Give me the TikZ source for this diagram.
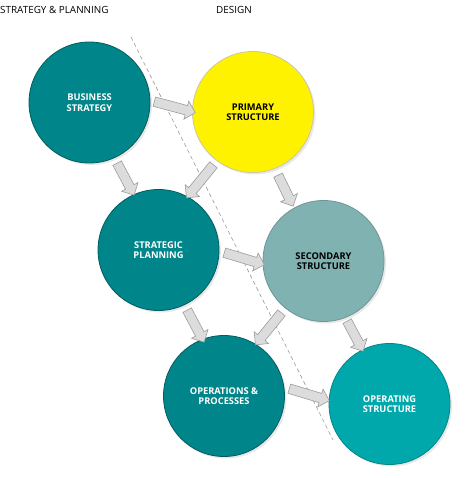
\documentclass[tikz,border=0pt]{standalone}
\usepackage{fontspec}
\setmainfont{Open Sans}
\usetikzlibrary{shapes.arrows,shadows,calc}
\definecolor{tealdark}{HTML}{00868A}
\definecolor{tealline}{HTML}{005C5E}
\definecolor{tealgray}{HTML}{80B2B2}
\definecolor{tealgrayline}{HTML}{6E9696}
\definecolor{tealbright}{HTML}{00A8AB}
\definecolor{yellowline}{HTML}{C8C8A0}
\definecolor{arrowfill}{HTML}{DCDCDC}
\definecolor{arrowline}{HTML}{9C9C9C}
\tikzset{
  stage/.style={circle, minimum size=121pt, inner sep=0pt, line width=0.8pt,
    font=\bfseries\fontsize{9.3}{10.5}\selectfont, align=center,
    drop shadow={opacity=0.18, shadow xshift=2pt, shadow yshift=-2pt}},
  darkstage/.style={stage, fill=tealdark, draw=tealline, text=white},
  blockarrow/.style={single arrow, fill=arrowfill, draw=arrowline, line width=0.6pt,
    inner xsep=0pt, inner ysep=4.5pt, minimum width=18pt, single arrow head extend=4.5pt,
    single arrow head indent=0pt, single arrow tip angle=90},
  divider/.style={dashed, draw=gray!80, line width=0.6pt, dash pattern=on 4pt off 3pt},
  header/.style={anchor=base west, inner sep=0pt, font=\fontsize{9.9}{12}\selectfont}
}
\newcommand\barrow[2]{%
  \path let \p1=(#1), \p2=(#2), \n1={atan2(\y2-\y1,\x2-\x1)}, \n2={veclen(\x2-\x1,\y2-\y1)} in
    node[blockarrow, rotate=\n1, minimum height=\n2] at ($(\p1)!0.5!(\p2)$) {};}
\begin{document}
\begin{tikzpicture}[x=1pt,y=-1pt]
\useasboundingbox (0,0) rectangle (474,478);
% headers
\node[header] (hsp) at (0,14) {STRATEGY \& PLANNING};
\node[header] (hd) at (216,14) {DESIGN};
% divider
\coordinate (d1) at (131,37);
\coordinate (d2) at (333,440);
\draw[divider] (d1) -- (d2);
% circles
\node[darkstage] (bs) at (89.5,102.5) {BUSINESS\\STRATEGY};
\node[stage, fill=yellow, draw=yellowline, text=black] (ps) at (253,112) {PRIMARY\\STRUCTURE};
\node[darkstage] (sp) at (158.5,250) {STRATEGIC\\PLANNING};
\node[stage, fill=tealgray, draw=tealgrayline, text=black] (ss) at (323.5,261) {SECONDARY\\STRUCTURE};
\node[darkstage] (op) at (224,396) {OPERATIONS \&\\PROCESSES};
\node[stage, fill=tealbright, draw=tealbright!80!black, text=white] (os) at (389.5,404) {OPERATING\\STRUCTURE};
% arrow end points
\coordinate (a1s) at (152,101); \coordinate (a1e) at (193,112);
\coordinate (a2s) at (116,161); \coordinate (a2e) at (133,193);
\coordinate (a3s) at (215,163); \coordinate (a3e) at (188,196);
\coordinate (a4s) at (277,173); \coordinate (a4e) at (292,204);
\coordinate (a5s) at (222,252); \coordinate (a5e) at (262,264);
\coordinate (a6s) at (186,308); \coordinate (a6e) at (203,340);
\coordinate (a7s) at (283,311); \coordinate (a7e) at (257,343);
\coordinate (a8s) at (346,319); \coordinate (a8e) at (362,349);
\coordinate (a9s) at (287,388); \coordinate (a9e) at (327,400);
\barrow{a1s}{a1e}
\barrow{a2s}{a2e}
\barrow{a3s}{a3e}
\barrow{a4s}{a4e}
\barrow{a5s}{a5e}
\barrow{a6s}{a6e}
\barrow{a7s}{a7e}
\barrow{a8s}{a8e}
\barrow{a9s}{a9e}
\end{tikzpicture}
\end{document}
